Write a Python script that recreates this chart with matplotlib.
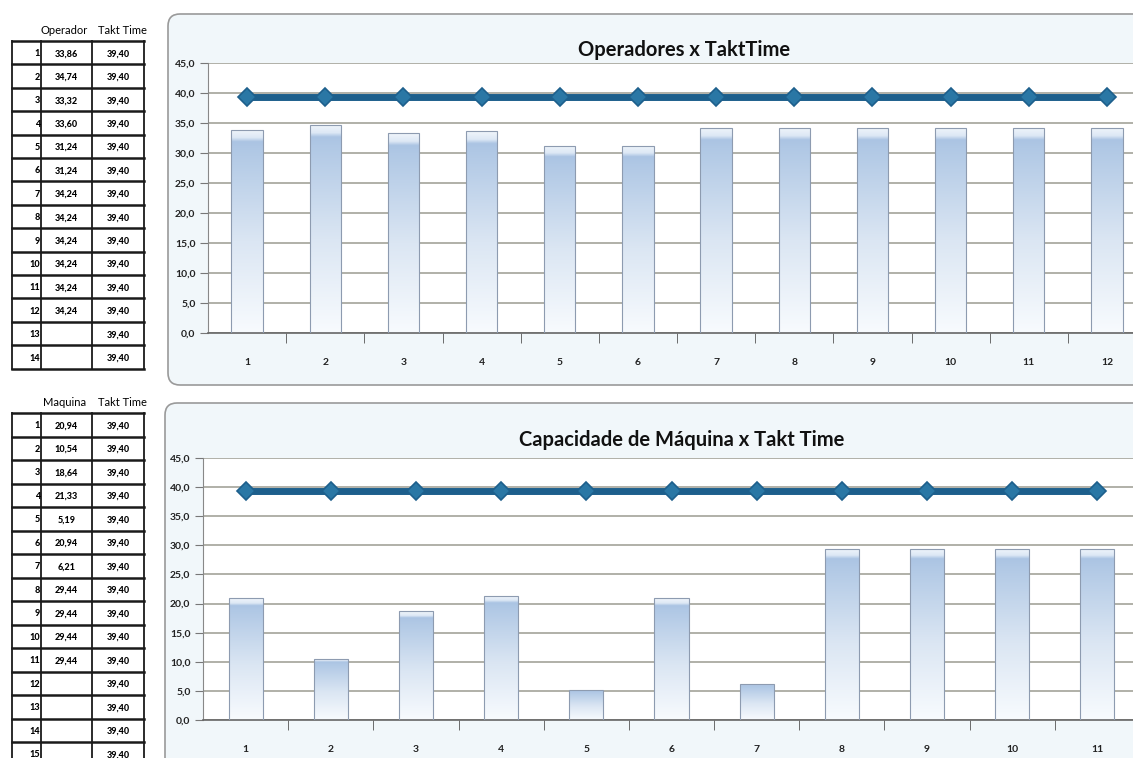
import matplotlib
matplotlib.use("Agg")
import matplotlib.pyplot as plt
import numpy as np
from matplotlib.colors import LinearSegmentedColormap
from matplotlib.patches import FancyBboxPatch
from matplotlib.ticker import FuncFormatter

W, H, DPI = 1133, 758, 100

# dados - operadores
op_ids = ["1", "2", "3", "4", "5", "6", "7", "8", "9", "10", "11", "12", "13", "14"]
op_values = [33.86, 34.74, 33.32, 33.60, 31.24, 31.24, 34.24, 34.24, 34.24, 34.24, 34.24, 34.24]
op_takt = [39.40, 39.40, 39.40, 39.40, 39.40, 39.40, 39.40, 39.40, 39.40, 39.40, 39.40, 39.40, 39.40, 39.40]

# dados - maquinas
mq_ids = ["1", "2", "3", "4", "5", "6", "7", "8", "9", "10", "11", "12", "13", "14", "15"]
mq_values = [20.94, 10.54, 18.64, 21.33, 5.19, 20.94, 6.21, 29.44, 29.44, 29.44, 29.44]
mq_takt = [39.40, 39.40, 39.40, 39.40, 39.40, 39.40, 39.40, 39.40, 39.40, 39.40, 39.40,
           39.40, 39.40, 39.40, 39.40]

FONT = ["Lato", "DejaVu Sans"]
plt.rcParams["font.family"] = FONT

LINE = "#1d5f8c"
GRID = "#a3a39a"
bar_cmap = LinearSegmentedColormap.from_list(
    "bar", [(0.0, "#f8fbfe"), (0.45, "#dbe6f3"), (0.9, "#b0c8e5"),
            (0.94, "#abc4e3"), (0.96, "#dde8f5"), (1.0, "#f0f5fb")])


def comma(v):
    return f"{v:.2f}".replace(".", ",")


def px_axes(fig, left, top, right, bottom):
    return fig.add_axes([left / W, 1 - bottom / H, (right - left) / W, (bottom - top) / H])


def draw_table(fig, top, row_h, ids, values, takt, header):
    n = len(ids)
    ax = px_axes(fig, 12, top, 144, top + row_h * n)
    cols = [0, 29, 80, 132]
    ax.set_xlim(0, 132)
    ax.set_ylim(n, 0)
    ax.axis("off")
    for r in range(n + 1):
        ax.plot([0, 132], [r, r], color="#1a1a1a", lw=1.8, clip_on=False)
    for c in cols:
        ax.plot([c, c], [0, n], color="#1a1a1a", lw=1.3, clip_on=False)
    for r, idx in enumerate(ids):
        ax.text(cols[1] - 1, r + 0.55, idx, ha="right", va="center", fontsize=6.5,
                weight="black")
        if r < len(values):
            ax.text((cols[1] + cols[2]) / 2, r + 0.55, comma(values[r]), ha="center",
                    va="center", fontsize=6.5, weight="black")
        ax.text((cols[2] + cols[3]) / 2, r + 0.55, comma(takt[r]), ha="center",
                va="center", fontsize=6.5, weight="black")
    ax.text((cols[1] + cols[2]) / 2 - 2, -0.45, header, ha="center", va="center",
            fontsize=8, clip_on=False)
    ax.text((cols[2] + cols[3]) / 2 + 4, -0.45, "Takt Time", ha="center", va="center",
            fontsize=8, clip_on=False)


def draw_chart(ax, values, takt, title_ax, title, title_xy):
    n = len(values)
    x = np.arange(1, n + 1)
    bars = ax.bar(x, values, width=0.4, color="none", edgecolor="#8d9bb0", lw=0.8, zorder=3)
    grad = np.linspace(0, 1, 256).reshape(-1, 1)
    for b in bars:
        x0, y0 = b.get_xy()
        im = ax.imshow(grad, extent=[x0, x0 + b.get_width(), y0, y0 + b.get_height()],
                       origin="lower", cmap=bar_cmap, aspect="auto", zorder=2)
        im.set_clip_path(b)
    ax.plot(x, takt[:n], color=LINE, lw=5, marker="D", ms=9, mfc="#2a77a5",
            mec=LINE, mew=1.2, zorder=4, solid_capstyle="round")
    ax.set_xlim(0.5, n + 0.5)
    ax.set_ylim(0, 45)
    ax.set_yticks(np.arange(0, 46, 5))
    ax.yaxis.set_major_formatter(FuncFormatter(lambda v, _: f"{v:.1f}".replace(".", ",")))
    ax.set_xticks(x)
    ax.set_xticklabels([str(i) for i in x])
    ax.set_xticks(np.arange(1.5, n, 1), minor=True)
    ax.tick_params(axis="x", which="major", length=0, pad=18, labelsize=7.5)
    ax.tick_params(axis="x", which="minor", length=7, direction="out", color="#555555")
    ax.tick_params(axis="y", length=6, direction="out", color="#777777", labelsize=7.5,
                   pad=3)
    for lab in ax.get_xticklabels() + ax.get_yticklabels():
        lab.set_fontweight("bold")
        lab.set_color("#222222")
    ax.yaxis.grid(True, color=GRID, lw=1.2)
    ax.set_axisbelow(True)
    ax.spines[["top", "right"]].set_visible(False)
    ax.spines["left"].set_color("#888888")
    ax.spines["bottom"].set_color("#666666")
    ax.spines["bottom"].set_linewidth(1.2)
    ax.set_facecolor("white")
    title_ax.text(title_xy[0], title_xy[1], title, ha="center", va="center", fontsize=14.5,
                  weight="bold", color="#111111")


def main():
    fig = plt.figure(figsize=(W / DPI, H / DPI), dpi=DPI, facecolor="white")

    bg = fig.add_axes([0, 0, 1, 1])
    bg.set_xlim(0, W)
    bg.set_ylim(H, 0)
    bg.axis("off")
    bg.add_patch(FancyBboxPatch((168, 14), 1000, 371, boxstyle="round,pad=0,rounding_size=12",
                                facecolor="#f1f7fa", edgecolor="#9a9a9a", lw=1.2))
    bg.add_patch(FancyBboxPatch((165, 403), 1000, 400, boxstyle="round,pad=0,rounding_size=12",
                                facecolor="#f1f7fa", edgecolor="#9a9a9a", lw=1.2))

    draw_table(fig, 41, 23.4, op_ids, op_values, op_takt, "Operador")
    draw_table(fig, 413, 23.5, mq_ids, mq_values, mq_takt, "Maquina")

    ax1 = px_axes(fig, 208, 63, 1146, 333)
    draw_chart(ax1, op_values, op_takt, bg, "Operadores x TaktTime", (684, 50))

    ax2 = px_axes(fig, 203, 458, 1140, 720)
    draw_chart(ax2, mq_values, mq_takt, bg, "Capacidade de Máquina x Takt Time", (682, 440))

    fig.savefig("out.png", dpi=DPI, facecolor="white")
    plt.close(fig)


if __name__ == "__main__":
    main()
